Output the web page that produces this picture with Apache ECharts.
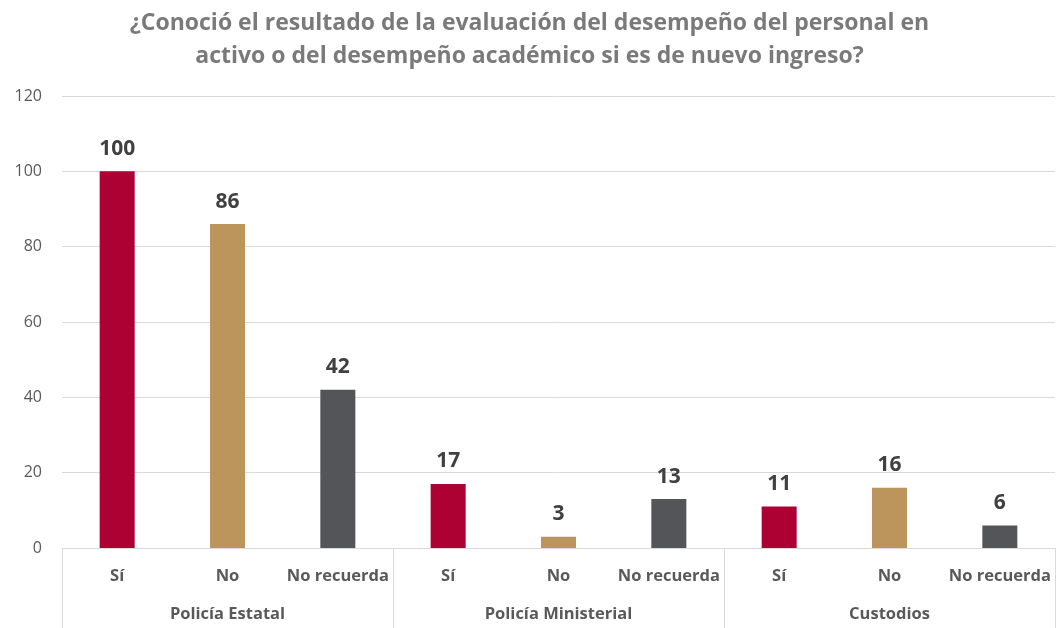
<!DOCTYPE html>
<html>
<head>
<meta charset="utf-8">
<script src="https://cdn.jsdelivr.net/npm/echarts@6/dist/echarts.min.js"></script>
<style>
  html, body { margin: 0; padding: 0; background: #ffffff; }
  #chart { width: 1059px; height: 628px; }
</style>
</head>
<body>
<div id="chart"></div>
<script>
// Answers within each group and the group names
const answers = ['Sí', 'No', 'No recuerda'];
const groups = ['Policía Estatal', 'Policía Ministerial', 'Custodios'];
// Counts per group, in the order of `answers`
const policiaEstatal = [100, 86, 42];
const policiaMinisterial = [17, 3, 13];
const custodios = [11, 16, 6];
const answerColors = ['#AD0033', '#BC955C', '#545559'];
const yTicks = [0, 20, 40, 60, 80, 100, 120];

const groupValues = [policiaEstatal, policiaMinisterial, custodios];
const categories = [];
const barData = [];
groupValues.forEach(function (vals) {
  vals.forEach(function (v, i) {
    categories.push(answers[i]);
    barData.push({ value: v, itemStyle: { color: answerColors[i] } });
  });
});

const fontFamily = '"Open Sans", "Noto Sans", sans-serif';
const chart = echarts.init(document.getElementById('chart'));
chart.setOption({
  animation: false,
  title: {
    text: '¿Conoció el resultado de la evaluación del desempeño del personal en\nactivo o del desempeño académico si es de nuevo ingreso?',
    left: 'center',
    top: 2,
    textStyle: {
      fontFamily: fontFamily,
      fontSize: 23,
      fontWeight: 'bold',
      color: '#7a7a7a',
      lineHeight: 33
    }
  },
  grid: { left: 62, right: 4, top: 96, bottom: 80, containLabel: false },
  xAxis: [
    {
      type: 'category',
      data: categories,
      position: 'bottom',
      axisLine: { show: true, lineStyle: { color: '#d9d9d9', width: 1 } },
      axisTick: { show: false },
      axisLabel: {
        interval: 0,
        margin: 20,
        fontFamily: fontFamily,
        fontSize: 16.5,
        fontWeight: 'bold',
        color: '#595959'
      }
    },
    {
      type: 'category',
      data: groups,
      position: 'bottom',
      offset: 0,
      axisLine: { show: false },
      axisTick: { show: true, length: 80, lineStyle: { color: '#d9d9d9', width: 1 } },
      axisLabel: {
        interval: 0,
        margin: 58,
        fontFamily: fontFamily,
        fontSize: 16.5,
        fontWeight: 'bold',
        color: '#595959'
      }
    }
  ],
  yAxis: {
    type: 'value',
    min: yTicks[0],
    max: yTicks[yTicks.length - 1],
    interval: yTicks[1] - yTicks[0],
    axisLine: { show: false },
    axisTick: { show: false },
    splitLine: { lineStyle: { color: '#d9d9d9', width: 1 } },
    axisLabel: {
      margin: 20,
      fontFamily: fontFamily,
      fontSize: 16,
      color: '#595959'
    }
  },
  series: [
    {
      type: 'bar',
      xAxisIndex: 0,
      data: barData,
      barWidth: 35,
      label: {
        show: true,
        position: 'top',
        distance: 12,
        fontFamily: fontFamily,
        fontSize: 21,
        fontWeight: 'bold',
        color: '#404040'
      }
    }
  ]
});
</script>
</body>
</html>
